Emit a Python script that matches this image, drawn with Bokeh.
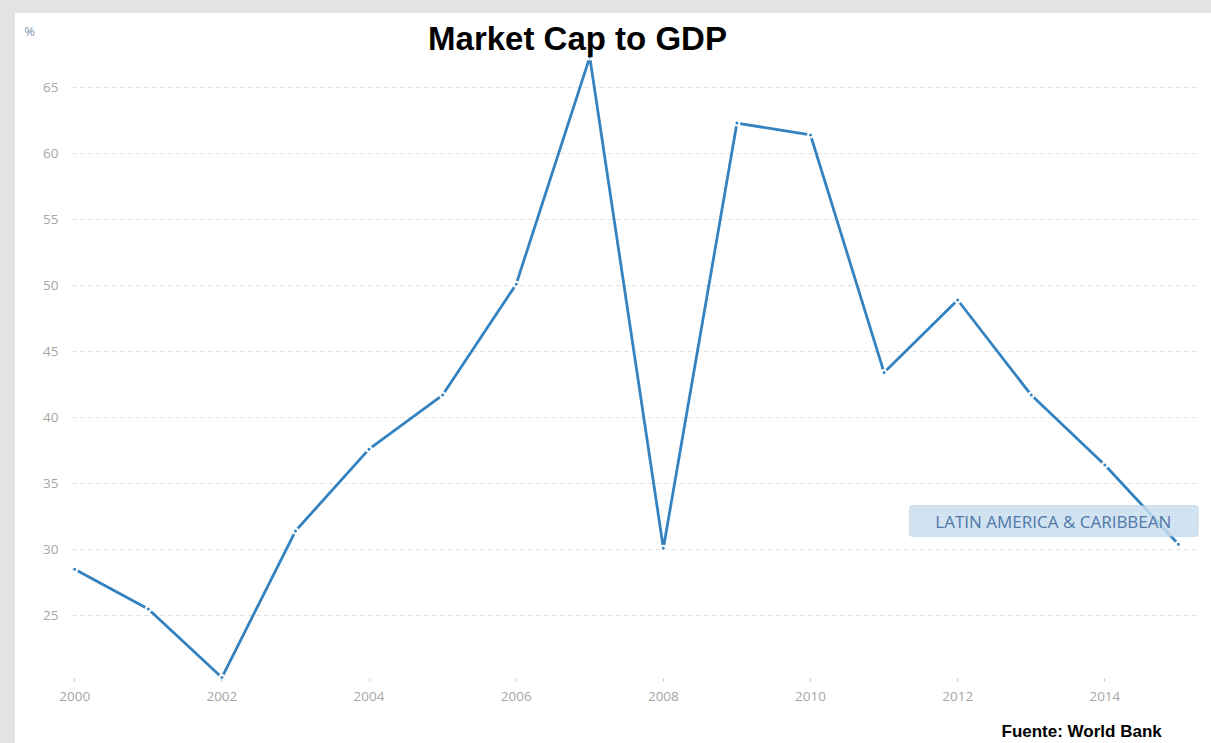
from bokeh.plotting import figure
from bokeh.models import Label, BoxAnnotation, FixedTicker, Range1d
from bokeh.embed import file_html
from bokeh.resources import INLINE

years = [2000, 2001, 2002, 2003, 2004, 2005, 2006, 2007, 2008, 2009, 2010, 2011, 2012, 2013, 2014, 2015]
market_cap_pct = [28.5, 25.5, 20.3, 31.4, 37.6, 41.7, 50.1, 67.3, 30.1, 62.3, 61.4, 43.4, 48.9, 41.7, 36.4, 30.4]
x_ticks = [2000, 2002, 2004, 2006, 2008, 2010, 2012, 2014]
y_ticks = [25, 30, 35, 40, 45, 50, 55, 60, 65]
title_text = "Market Cap to GDP"
series_name = "LATIN AMERICA & CARIBBEAN"
source_text = "Fuente: World Bank"
unit_text = "%"

LINE = "#3483c0"
TICK = "#a6a6a6"
PAGE_GRAY = "#e3e3e3"

W, H = 1196, 730
ML, MR, MT, MB = 57, 11, 37, 65
FW, FH = W - ML - MR, H - MT - MB

p = figure(width=W, height=H, output_backend="svg", toolbar_location=None,
           x_range=Range1d(1999.97, 2015.3), y_range=Range1d(20.23, 67.8),
           min_border_left=ML, min_border_right=MR, min_border_top=MT, min_border_bottom=MB,
           background_fill_color="white", border_fill_color="white", outline_line_color=None,
           styles={"background-color": "white"})

p.xgrid.visible = False
p.ygrid.grid_line_color = "#dedede"
p.ygrid.grid_line_dash = "4 4"
p.ygrid.grid_line_width = 1

p.xaxis.ticker = FixedTicker(ticks=x_ticks)
p.yaxis.ticker = FixedTicker(ticks=y_ticks)
for ax in (p.xaxis[0], p.yaxis[0]):
    ax.axis_line_color = None
    ax.minor_tick_line_color = None
    ax.major_label_text_font = "Open Sans"
    ax.major_label_text_font_size = "13.5px"
    ax.major_label_text_color = TICK
p.xaxis.major_tick_line_color = "#c4c4c4"
p.xaxis.major_tick_out = 3
p.xaxis.major_tick_in = 0
p.xaxis.major_label_standoff = 10
p.yaxis.major_tick_line_color = None
p.yaxis.major_tick_out = 0
p.yaxis.major_tick_in = 0
p.yaxis.major_label_standoff = 14

p.line(years, market_cap_pct, line_color=LINE, line_width=2.8)
p.scatter(years, market_cap_pct, size=5, fill_color=LINE, line_color="white", line_width=2)

# legend box
p.add_layout(BoxAnnotation(left=2011.345, right=2015.27, bottom=30.98, top=33.33,
                           fill_color="#c9ddee", fill_alpha=0.85,
                           line_color="#8db8dc", line_width=1, border_radius=3))
p.add_layout(Label(x=2013.30, y=32.15, text=series_name, text_align="center",
                   text_baseline="middle", text_font="Open Sans", text_font_size="17px",
                   text_color="#4f78a8"))

p.add_layout(Label(x=505, y=12, x_units="screen", y_units="screen",
                   text=title_text, text_align="center", text_baseline="middle",
                   text_font="Liberation Sans", text_font_style="bold",
                   text_font_size="33px", text_line_height=1.0, text_color="black"), "above")
p.add_layout(Label(x=0, y=FH + 20, x_units="screen", y_units="screen",
                   text=unit_text, text_align="center", text_baseline="middle",
                   text_font="Open Sans", text_font_size="13px", text_color="#8192b0"), "left")
p.add_layout(Label(x=929, y=-9, x_units="screen", y_units="screen",
                   text=source_text, text_align="left", text_baseline="alphabetic",
                   text_font="Liberation Sans", text_font_style="bold",
                   text_font_size="17px", text_color="black"), "below")

html = file_html(p, INLINE)
css = ("<style>html,body{background-color:%s !important;overflow:hidden;}"
       "body{margin:0 !important;padding:13px 0 0 15px !important;}</style></head>" % PAGE_GRAY)
html = html.replace("</head>", css, 1)
open("out.html", "w").write(html)
